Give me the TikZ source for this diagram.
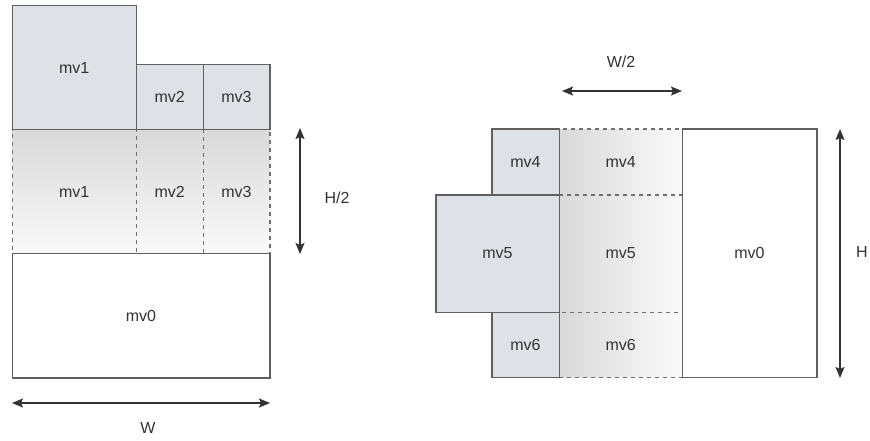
\documentclass[tikz,border=0pt]{standalone}
\usepackage{fontspec}
\setmainfont{Liberation Sans}
\usetikzlibrary{arrows.meta}
\definecolor{boxfill}{HTML}{DEE1E6}
\definecolor{edge}{HTML}{606060}
\definecolor{ink}{HTML}{333333}
\definecolor{shadedark}{HTML}{D9D9D9}
\definecolor{shadelight}{HTML}{FAFAFA}
\begin{document}
\begin{tikzpicture}[x=1pt,y=-1pt,
  lbl/.style={font=\fontsize{16}{18}\selectfont, text=ink, inner sep=0pt},
  blk/.style={draw=edge, line width=1.5pt, inner sep=0pt, anchor=north west,
     font=\fontsize{16}{18}\selectfont, text=ink},
  graybox/.style={blk, fill=boxfill},
  whitebox/.style={blk, fill=white},
  vcell/.style={blk, dashed, dash pattern=on 4pt off 4pt, top color=shadedark, bottom color=shadelight, draw=edge!90},
  hcell/.style={blk, dashed, dash pattern=on 4pt off 4pt, left color=shadedark, right color=shadelight, draw=edge!90},
  dim/.style={draw=ink, line width=1.5pt, {Stealth[length=11pt,width=9pt,inset=2pt]}-{Stealth[length=11pt,width=9pt,inset=2pt]}}
]
\useasboundingbox (0,0) rectangle (870,441);

% ---------- left diagram ----------
\node[vcell, minimum width=124pt, minimum height=123.5pt] (b1) at (11.5,129) {mv1};
\node[vcell, minimum width=67pt, minimum height=123.5pt] (b2) at (135.5,129) {mv2};
\node[vcell, minimum width=66.5pt, minimum height=123.5pt] (b3) at (202.5,129) {mv3};

\node[graybox, minimum width=124pt, minimum height=124pt] (t1) at (11.5,5) {mv1};
\node[graybox, minimum width=67pt, minimum height=65pt] (t2) at (135.5,64) {mv2};
\node[graybox, minimum width=66.5pt, minimum height=65pt] (t3) at (202.5,64) {mv3};

\node[whitebox, minimum width=257.5pt, minimum height=124.5pt] (l0) at (11.5,252.5) {mv0};

\coordinate (wL) at (12,403);
\coordinate (wR) at (270,403);
\draw[dim] (wL) -- (wR);
\node[lbl] (wlab) at (148,428) {W};

\coordinate (hhT) at (300,128);
\coordinate (hhB) at (300,254);
\draw[dim] (hhT) -- (hhB);
\node[lbl] (hhlab) at (337,198) {H/2};

% ---------- right diagram ----------
\node[hcell, minimum width=123pt, minimum height=65.5pt] (c4) at (558.5,128.5) {mv4};
\node[hcell, minimum width=123pt, minimum height=117.5pt] (c5) at (558.5,194) {mv5};
\node[hcell, minimum width=123pt, minimum height=65pt] (c6) at (558.5,311.5) {mv6};

\node[graybox, minimum width=67.5pt, minimum height=65.5pt] (s4) at (491,128.5) {mv4};
\node[graybox, minimum width=123.5pt, minimum height=117.5pt] (s5) at (435,194) {mv5};
\node[graybox, minimum width=67.5pt, minimum height=65pt] (s6) at (491,311.5) {mv6};

\node[whitebox, minimum width=134.5pt, minimum height=248pt] (r0) at (681.5,128.5) {mv0};

\coordinate (w2L) at (562,91);
\coordinate (w2R) at (682,91);
\draw[dim] (w2L) -- (w2R);
\node[lbl] (w2lab) at (621,62) {W/2};

\coordinate (hT) at (840,129);
\coordinate (hB) at (840,378);
\draw[dim] (hT) -- (hB);
\node[lbl, anchor=west] (hlab) at (856,252) {H};
\end{tikzpicture}
\end{document}
